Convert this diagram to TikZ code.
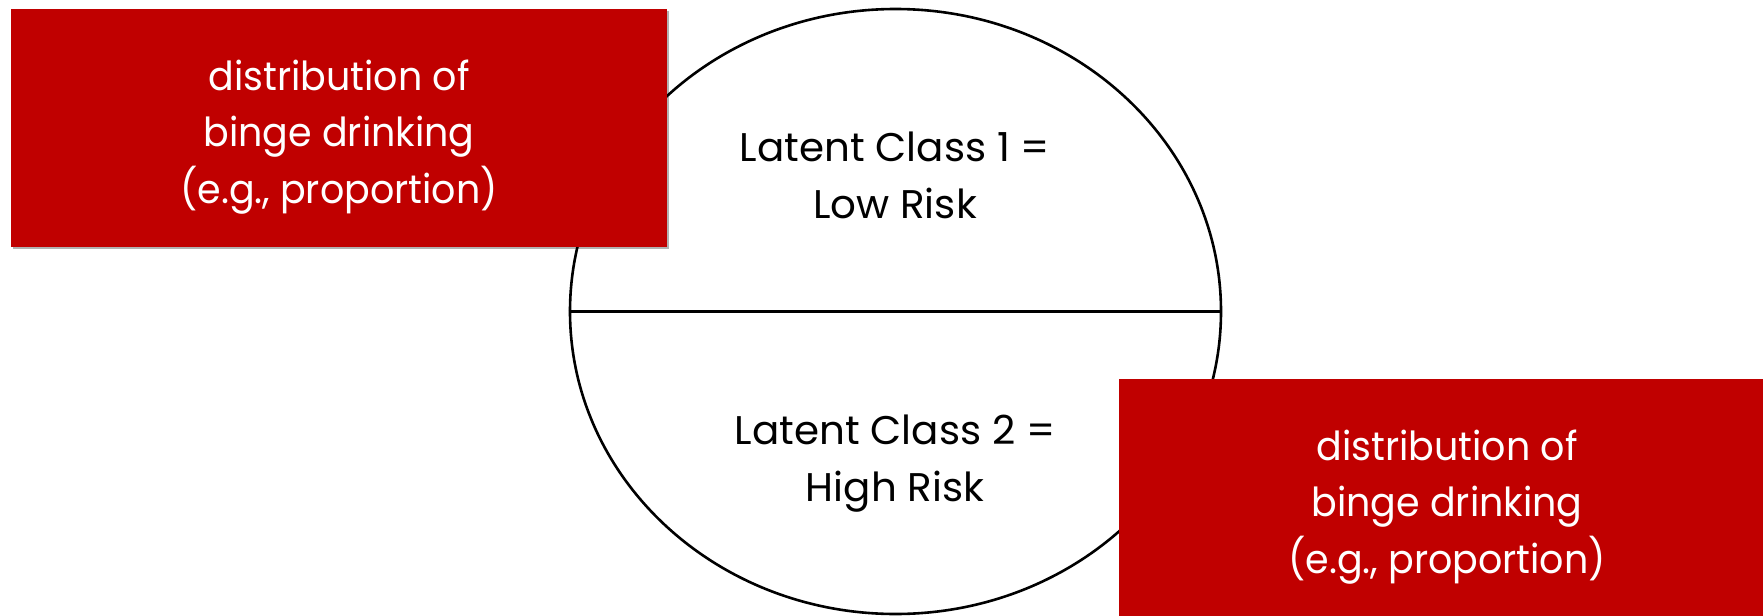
\documentclass[tikz,border=0pt]{standalone}
\usepackage{fontspec}
\setmainfont{Poppins}
\newfontfamily\boxfont{Poppins}[FakeStretch=0.95]
\newfontfamily\classfont{Poppins}[FakeStretch=1.01]
\usetikzlibrary{shapes.geometric,shadows}
\definecolor{boxred}{RGB}{192,0,0}
\begin{document}
\begin{tikzpicture}[x=0.5pt,y=-0.5pt,
  redbox/.style={fill=boxred, minimum width=328pt, minimum height=119pt, inner sep=0pt,
    drop shadow={shadow xshift=1pt,shadow yshift=-1.2pt,opacity=0.3,fill=black}},
  boxtext/.style={text=white, align=center, inner sep=0pt, font=\boxfont\fontsize{20}{28.3}\selectfont},
  classtext/.style={align=center, inner sep=0pt, font=\classfont\fontsize{20}{28.5}\selectfont},
  ovalshape/.style={ellipse, draw, line width=1.3pt, inner sep=0pt}]
\useasboundingbox (0,0) rectangle (1763,616);
\node[ovalshape, minimum width=325.5pt, minimum height=302.5pt] (oval) at (895.5,311.5) {};
\draw[line width=1.3pt] (oval.west) -- (oval.east);
\node[classtext] (c1) at (895,175) {Latent Class 1 =\\Low Risk};
\node[classtext] (c2) at (895,464) {Latent Class 2 =\\High Risk};
\node[redbox] (b1) at (339,128) {};
\node[boxtext] (t1) at ([yshift=-4.5pt]b1.center) {distribution of\\binge drinking\\(e.g., proportion)};
\node[redbox] (b2) at (1447,498) {};
\node[boxtext] (t2) at ([yshift=-4.5pt]b2.center) {distribution of\\binge drinking\\(e.g., proportion)};
\end{tikzpicture}
\end{document}
